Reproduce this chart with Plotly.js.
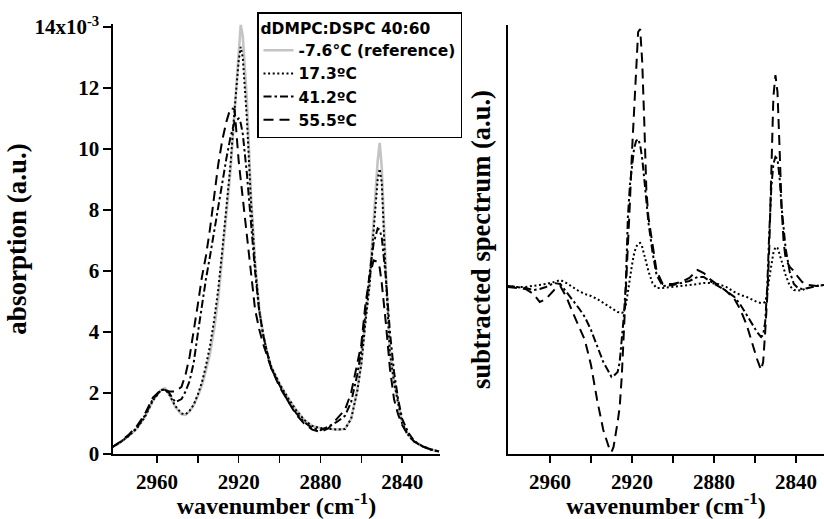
<!DOCTYPE html>
<html>
<head>
<meta charset="utf-8">
<script src="https://cdn.plot.ly/plotly-3.0.1.min.js"></script>
<style>html,body{margin:0;padding:0;background:#fff}#chart{width:824px;height:519px}</style>
</head>
<body>
<div id="chart"></div>
<script>
// ---- Left panel: absorption (x10^-3) ----
const wnAbs = [2982,2978,2974,2970,2966, 2962,2958,2956,2954,2951, 2948,2946,2944,2942,2940, 2938,2936,2934,2932,2930, 2928,2926,2924,2922,2920, 2919,2918,2916,2914,2912, 2910,2908,2906,2904,2900, 2896,2892,2888,2884,2880, 2876,2872,2868,2865,2862, 2860,2858,2856,2854,2852, 2851,2850,2848,2846,2844, 2842,2840,2837,2834,2830, 2826,2822];
const absRef = [0.22,0.38,0.58,0.82,1.2, 1.75,2.1,2.15,1.95,1.55, 1.3,1.28,1.4,1.6,1.9, 2.25,2.75,3.3,4.1,5.1, 6.5,7.8,9.3,11.2,13.3, 14.07,13.7,11.6,8.5,6.3, 4.8,3.9,3.3,2.85,2.3, 1.85,1.45,1.12,0.92,0.85, 0.83,0.8,0.82,1.15,2.1, 3.0,4.4,5.6,7.6,9.6, 10.2,9.4,6.0,3.4,2.4, 1.7,1.0,0.62,0.4,0.25, 0.15,0.08];
const abs173 = [0.22,0.38,0.58,0.82,1.2, 1.75,2.1,2.12,1.95,1.57, 1.33,1.3,1.42,1.62,1.95, 2.35,2.9,3.55,4.4,5.4, 6.7,8.0,9.5,11.3,12.9, 13.35,13.0,11.0,8.3,6.2, 4.75,3.9,3.3,2.85,2.3, 1.85,1.45,1.12,0.92,0.85, 0.83,0.8,0.82,1.15,2.05, 2.95,4.3,5.5,7.3,9.0, 9.35,8.9,5.8,3.3,2.35, 1.7,1.0,0.62,0.4,0.25, 0.15,0.08];
const abs412 = [0.22,0.38,0.6,0.85,1.25, 1.8,2.1,2.1,2.0,1.7, 1.8,2.05,2.4,3.0,3.95, 4.9,5.75,6.5,7.3,8.2, 9.0,9.7,10.4,10.9,11.0, 10.85,10.5,9.2,7.6,6.0, 4.7,3.9,3.3,2.8,2.25, 1.75,1.35,1.05,0.85,0.78, 0.9,1.05,1.25,1.7,2.6, 3.4,4.6,5.9,6.9,7.4, 7.35,7.1,5.8,4.0,2.7, 1.8,1.15,0.7,0.42,0.25, 0.15,0.08];
const abs555 = [0.22,0.4,0.62,0.9,1.3, 1.85,2.1,2.1,2.05,2.05, 2.2,2.6,3.2,4.0,4.9, 5.8,6.5,7.4,8.4,9.5, 10.3,10.9,11.35,11.3,9.6, 9.0,8.4,7.3,6.0,4.75, 4.1,3.6,3.2,2.8,2.2, 1.75,1.3,1.0,0.8,0.72, 0.85,1.15,1.45,2.0,2.9, 3.6,4.9,5.8,6.35,6.3, 6.1,5.6,4.3,2.8,1.8, 1.3,0.95,0.6,0.4,0.25, 0.15,0.08];

// ---- Right panel: subtracted spectra (arbitrary units) ----
const wnSub = [2981,2976,2972,2968,2965, 2962,2958,2955,2952,2949, 2946,2943,2940,2937,2934, 2931,2930,2929,2927,2926, 2925,2924,2923,2922,2921, 2920,2919,2918,2917,2916, 2915,2914,2913,2912,2910, 2908,2905,2900,2896,2892, 2888,2885,2882,2878,2874, 2870,2867,2864,2861,2859, 2857,2856,2855,2854,2853, 2852,2851,2850,2849,2848, 2847,2846,2845,2843,2841, 2839,2837,2834,2830,2826];
const sub173 = [0.1,0.0,0.0,0.1,0.2, 0.3,0.5,0.7,0.4,0.0, -0.4,-0.7,-0.9,-1.2,-1.6, -2.0,-2.1,-2.3,-2.5,-2.55, -2.6,-2.5,-1.8,-0.5,1.0, 2.2,3.3,4.0,4.35,4.4, 4.0,3.2,2.4,1.6,0.4, -0.1,-0.1,0.0,0.1,0.2, 0.3,0.4,0.4,0.3,0.0, -0.5,-0.8,-1.0,-1.3,-1.5, -1.6,-1.6,-1.5,-0.6,0.9, 2.4,3.4,4.0,3.9,3.3, 2.6,1.9,1.2,0.1,-0.3, -0.35,-0.3,-0.1,0.1,0.2];
const sub412 = [0.1,0.0,-0.1,-0.3,-0.2, 0.0,0.4,0.3,-0.5,-1.2, -2.1,-3.0,-4.3,-5.9,-7.5, -8.6,-9.0,-8.9,-8.5,-7.5, -5.5,-3.0,0.3,7.0,10.2, 12.3,13.8,14.6,14.8,14.2, 12.8,10.8,8.6,6.5,3.5, 1.2,0.1,0.2,0.4,0.6, 1.0,1.0,0.6,0.1,-0.4, -1.0,-1.8,-2.8,-3.8,-4.5, -5.0,-4.8,-3.5,0.0,5.5, 10.0,12.3,13.0,12.8,11.0, 8.0,5.6,3.8,1.5,0.3, -0.1,-0.2,-0.1,0.1,0.2];
const sub555 = [0.0,-0.1,-0.2,-0.7,-1.5, -1.2,-0.3,0.1,-1.0,-2.5, -3.9,-5.3,-7.8,-11.3,-14.3, -16.2,-16.5,-16.0,-13.5,-12.0, -9.0,-5.0,-0.5,4.0,8.5, 13.5,18.0,22.5,25.5,25.8, 22.5,16.5,9.8,7.0,4.5, 1.6,0.3,0.3,0.5,0.9, 1.7,1.4,0.8,0.2,-0.4, -1.2,-2.3,-3.8,-6.0,-7.2, -8.3,-7.5,-4.5,-1.0,4.0, 12.0,19.0,21.2,19.5,14.0, 8.0,4.5,2.8,2.0,1.6, 1.0,0.5,0.2,0.1,0.2];

const seriesNames = ['-7.6°C (reference)', '17.3ºC', '41.2ºC', '55.5ºC'];
const xTickVals = [2960, 2920, 2880, 2840];
const xTickText = ['2960', '2920', '2880', '2840'];
const xMinorVals = [2940, 2900, 2860];
const yTickVals = [0, 2, 4, 6, 8, 10, 12, 14];
const yTickText = ['0', '2', '4', '6', '8', '10', '12', '14x10<sup>-3</sup>'];

const DOT = '2px,2.6px';
const DASHDOT = '8px,3px,2.5px,3px';
const DASH = '10px,6px';

const traces = [
  {x: wnAbs, y: absRef, name: seriesNames[0], mode: 'lines', line: {color: '#c4c4c4', width: 2.6}, xaxis: 'x', yaxis: 'y'},
  {x: wnAbs, y: abs173, name: seriesNames[1], mode: 'lines', line: {color: '#000', width: 2, dash: DOT}, xaxis: 'x', yaxis: 'y'},
  {x: wnAbs, y: abs412, name: seriesNames[2], mode: 'lines', line: {color: '#000', width: 2, dash: DASHDOT}, xaxis: 'x', yaxis: 'y'},
  {x: wnAbs, y: abs555, name: seriesNames[3], mode: 'lines', line: {color: '#000', width: 2, dash: DASH}, xaxis: 'x', yaxis: 'y'},
  {x: wnSub, y: sub173, name: seriesNames[1], showlegend: false, mode: 'lines', line: {color: '#000', width: 2, dash: DOT}, xaxis: 'x2', yaxis: 'y2'},
  {x: wnSub, y: sub412, name: seriesNames[2], showlegend: false, mode: 'lines', line: {color: '#000', width: 2, dash: DASHDOT}, xaxis: 'x2', yaxis: 'y2'},
  {x: wnSub, y: sub555, name: seriesNames[3], showlegend: false, mode: 'lines', line: {color: '#000', width: 2, dash: DASH}, xaxis: 'x2', yaxis: 'y2'}
];

const serif = 'Liberation Serif, Times New Roman, serif';
const sans = 'DejaVu Sans, Arial, sans-serif';
const tickFont = {family: serif, size: 21, color: '#000', weight: 'bold'};
const titleFont = {family: serif, size: 24, color: '#000', weight: 'bold'};

const xBase = {
  showline: true, linecolor: '#000', linewidth: 1.6, mirror: false,
  ticks: 'outside', ticklen: 7, tickwidth: 1.5, tickcolor: '#000',
  tickmode: 'array', tickvals: xTickVals, ticktext: xTickText,
  minor: {tickmode: 'array', tickvals: xMinorVals, ticks: 'outside', ticklen: 7, tickwidth: 1.5, tickcolor: '#000', showgrid: false},
  tickfont: tickFont, ticklabelstandoff: 1,
  showgrid: false, zeroline: false, automargin: false,
  title: {text: 'wavenumber (cm<sup>-1</sup>)', font: titleFont, standoff: 3}
};

const layout = {
  width: 824, height: 519,
  margin: {l: 0, r: 0, t: 0, b: 0},
  paper_bgcolor: '#fff', plot_bgcolor: '#fff',
  showlegend: true,
  xaxis: Object.assign({}, xBase, {domain: [113/824, 440/824], range: [2981.5, 2821.5], anchor: 'y'}),
  yaxis: {
    domain: [65/519, 495/519], range: [0, 14.1], anchor: 'x',
    showline: true, linecolor: '#000', linewidth: 1.6,
    ticks: 'outside', ticklen: 8, tickwidth: 1.5, tickcolor: '#000',
    tickmode: 'array', tickvals: yTickVals, ticktext: yTickText,
    tickfont: tickFont, showgrid: false, zeroline: false, automargin: false,
    title: {text: 'absorption (a.u.)', font: {family: serif, size: 27, color: '#000', weight: 'bold'}, standoff: 0}
  },
  xaxis2: Object.assign({}, xBase, {domain: [508/824, 1], range: [2980.5, 2826.3], anchor: 'y2'}),
  yaxis2: {
    domain: [65/519, 494/519], range: [-16.7, 26.2], anchor: 'x2',
    showline: true, linecolor: '#000', linewidth: 1.6,
    ticks: '', showticklabels: false, showgrid: false, zeroline: false, automargin: false,
    title: {text: 'subtracted spectrum (a.u.)', font: {family: serif, size: 26.5, color: '#000', weight: 'bold'}, standoff: 8}
  },
  legend: {
    x: 257/824, y: 1 - 12/519, xanchor: 'left', yanchor: 'top',
    bgcolor: '#fff', bordercolor: '#000', borderwidth: 1.5,
    font: {family: sans, size: 15.5, color: '#000', weight: 'bold'},
    title: {text: 'dDMPC:DSPC 40:60', font: {family: sans, size: 15.5, color: '#000', weight: 'bold'}},
    tracegroupgap: 0, itemwidth: 30
  }
};

Plotly.newPlot('chart', traces, layout, {staticPlot: true, displayModeBar: false});
</script>
</body>
</html>
